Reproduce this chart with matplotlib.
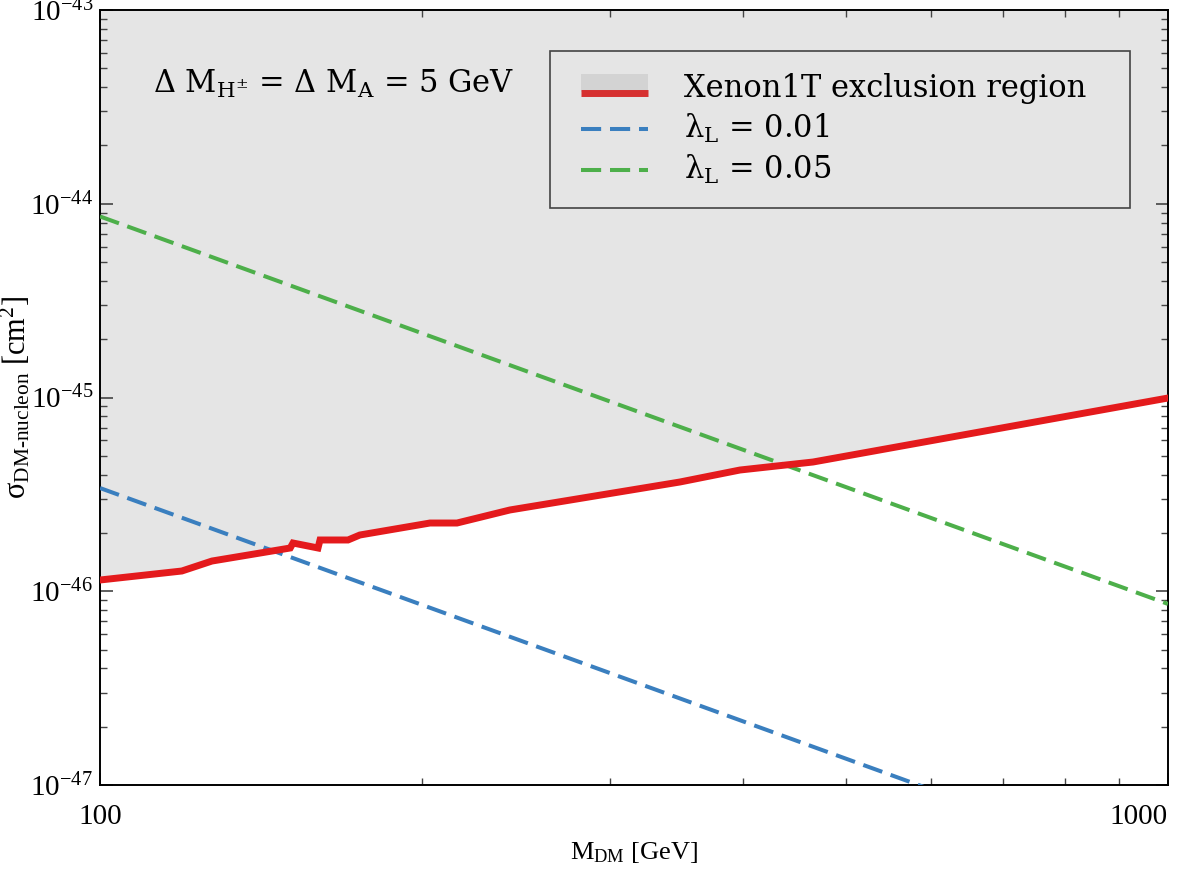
import matplotlib
matplotlib.use("Agg")
import matplotlib.pyplot as plt
from matplotlib.patches import Rectangle
from matplotlib.lines import Line2D
from matplotlib.legend_handler import HandlerBase
import matplotlib.ticker as mticker

plt.rcParams['font.family'] = ['DejaVu Serif']
plt.rcParams['mathtext.fontset'] = 'custom'
plt.rcParams['mathtext.rm'] = 'Liberation Serif'
plt.rcParams['mathtext.it'] = 'Liberation Serif:italic'
plt.rcParams['mathtext.bf'] = 'Liberation Serif:bold'

# Xenon1T exclusion limit
xenon_mass = [100, 119.3, 127.3, 150.7, 151.6, 160.0, 160.7, 170.7, 175.1,
              203.7, 215.9, 242.0, 349.2, 397.4, 465.2, 1000]
xenon_sigma = [1.143e-46, 1.272e-46, 1.432e-46, 1.672e-46, 1.774e-46, 1.672e-46,
               1.839e-46, 1.839e-46, 1.951e-46, 2.25e-46, 2.25e-46, 2.627e-46,
               3.664e-46, 4.224e-46, 4.646e-46, 9.94e-46]

# lambda_L curves
lam001_mass = [100, 1000]
lam001_sigma = [3.41e-46, 3.41e-48]
lam005_mass = [100, 1000]
lam005_sigma = [8.6e-45, 8.6e-47]

x_ticks = [100, 1000]
x_ticklabels = ['100', '1000']
y_ticks = [1e-47, 1e-46, 1e-45, 1e-44, 1e-43]
y_ticklabels = [r'$10^{-47}$', r'$10^{-46}$', r'$10^{-45}$', r'$10^{-44}$', r'$10^{-43}$']

RED = '#e41a1c'
BLUE = '#3a7fbf'
GREEN = '#4daf4a'
FILL = '#e5e5e5'

fig = plt.figure(figsize=(11.82, 8.86), dpi=100)
ax = fig.add_axes([100/1182, 1-785/886, 1068/1182, 775/886])
ax.set_xscale('log')
ax.set_yscale('log')
ax.set_xlim(100, 1000)
ax.set_ylim(1e-47, 1e-43)

ax.fill_between(xenon_mass, xenon_sigma, 1e-43, color=FILL, lw=0, zorder=1)
ax.plot(xenon_mass, xenon_sigma, color=RED, lw=5, zorder=4, solid_joinstyle='miter')
ax.plot(lam001_mass, lam001_sigma, color=BLUE, lw=2.9, dashes=(5, 2.2), zorder=3)
ax.plot(lam005_mass, lam005_sigma, color=GREEN, lw=2.9, dashes=(5, 2.2), zorder=3)

ax.xaxis.set_major_locator(mticker.FixedLocator(x_ticks))
ax.xaxis.set_major_formatter(mticker.FixedFormatter(x_ticklabels))
ax.xaxis.set_minor_locator(mticker.LogLocator(base=10, subs=range(2, 10)))
ax.xaxis.set_minor_formatter(mticker.NullFormatter())
ax.yaxis.set_major_locator(mticker.FixedLocator(y_ticks))
ax.yaxis.set_major_formatter(mticker.FixedFormatter(y_ticklabels))
ax.yaxis.set_minor_locator(mticker.LogLocator(base=10, subs=range(2, 10), numticks=20))
ax.yaxis.set_minor_formatter(mticker.NullFormatter())

ax.tick_params(which='both', direction='in', top=True, right=True, color='#444444')
ax.tick_params(which='major', length=9, width=1.2, labelsize=21)
ax.tick_params(axis='x', which='major', pad=14)
ax.tick_params(axis='y', which='major', pad=5)
ax.tick_params(which='minor', length=5, width=1.0)
for lab in ax.get_xticklabels() + ax.get_yticklabels():
    lab.set_fontfamily('Liberation Serif')
for s in ax.spines.values():
    s.set_linewidth(1.4)
    s.set_color('black')

ax.figure.canvas.draw()
ax.xaxis.get_major_ticks()[1].label1.set_horizontalalignment('right')

ax.set_xlabel(r'$\mathrm{M_{DM}}$ [GeV]', fontsize=19, family='Liberation Serif', labelpad=7)
ax.set_ylabel(r'σ$_{\mathrm{DM\text{-}nucleon}}$ [cm$^2$]', fontsize=22, family='Liberation Serif')
ax.yaxis.set_label_coords(-0.063, 0.5)

ax.text(0.05, 0.905, r'Δ M$_{\mathrm{H^{\pm}}}$ = Δ M$_{\mathrm{A}}$ = 5 GeV',
        transform=ax.transAxes, fontsize=22, va='center', ha='left', zorder=6,
        math_fontfamily='dejavuserif')

OFFSET_PT = 6.5


class XenonHandler(HandlerBase):
    def create_artists(self, legend, orig_handle, xdescent, ydescent, width, height, fontsize, trans):
        x0 = -xdescent + OFFSET_PT
        w = width - OFFSET_PT
        rect = Rectangle((x0, -ydescent + height * 0.25), w, height * 0.85,
                         facecolor='#d3d3d3', edgecolor='none', transform=trans)
        line = Line2D([x0, x0 + w], [-ydescent + height * 0.2] * 2,
                      color='#d63030', lw=5, transform=trans, solid_capstyle='butt')
        return [rect, line]


class DashHandler(HandlerBase):
    def __init__(self, color):
        super().__init__()
        self.color = color

    def create_artists(self, legend, orig_handle, xdescent, ydescent, width, height, fontsize, trans):
        x0 = -xdescent + OFFSET_PT
        y = -ydescent + height * 0.4
        line = Line2D([x0, -xdescent + width], [y, y], color=self.color, lw=2.9,
                      dashes=(5, 2.2), transform=trans)
        return [line]


xenon_handle = object()
blue_handle = object()
green_handle = object()
leg = ax.legend([xenon_handle, blue_handle, green_handle],
                ['Xenon1T exclusion region', r'λ$_{\mathrm{L}}$ = 0.01', r'λ$_{\mathrm{L}}$ = 0.05'],
                handler_map={xenon_handle: XenonHandler(),
                             blue_handle: DashHandler(BLUE),
                             green_handle: DashHandler(GREEN)},
                loc='upper left', mode='expand',
                bbox_to_anchor=(450/1068, 0.5, 580/1068, 0.947 - 0.5), fontsize=22,
                frameon=True, fancybox=False, framealpha=1, facecolor=FILL, edgecolor='#444444',
                handlelength=2.49, handletextpad=1.18, labelspacing=0.25, borderpad=0.72,
                borderaxespad=0)
for t in leg.get_texts():
    t.set_math_fontfamily('dejavuserif')
leg.get_frame().set_linewidth(1.2)
leg.set_zorder(7)

fig.savefig('out.png', dpi=100)
